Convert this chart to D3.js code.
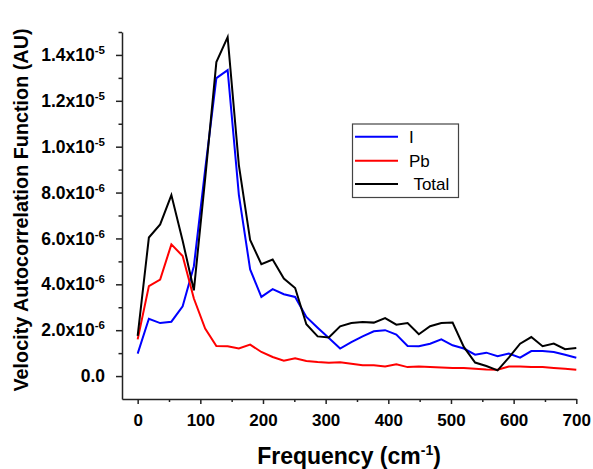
<!DOCTYPE html>
<html>
<head>
<meta charset="utf-8">
<script src="https://cdn.jsdelivr.net/npm/d3@7/dist/d3.min.js"></script>
<style>
  body { margin: 0; background: #fff; }
  text { font-family: Arial, "Liberation Sans", sans-serif; }
</style>
</head>
<body>
<svg id="chart" width="593" height="469"></svg>
<script>
// frequency (cm-1) of each sample
var freq = [0, 17.9, 35.9, 53.8, 71.8, 89.7, 107.7, 125.6, 143.6, 161.5,
  179.5, 197.4, 215.4, 233.3, 251.3, 269.2, 287.2, 305.1, 323.1, 341.0,
  359.0, 376.9, 394.9, 412.8, 430.8, 448.7, 466.7, 484.6, 502.6, 520.5,
  538.5, 556.4, 574.4, 592.3, 610.3, 628.2, 646.2, 664.1, 682.1, 700.0];

// values in units of 1e-6 AU
var iVals = [0.98, 2.5, 2.31, 2.37, 3.04, 4.79, 9.0, 12.99, 13.34, 7.9,
  4.65, 3.45, 3.79, 3.57, 3.45, 2.58, 2.11, 1.66, 1.2, 1.48,
  1.73, 1.95, 2.0, 1.81, 1.31, 1.3, 1.41, 1.6, 1.34, 1.2,
  0.93, 1.02, 0.87, 0.98, 0.8, 1.09, 1.09, 1.05, 0.93, 0.8];
var pbVals = [1.6, 3.92, 4.21, 5.74, 5.23, 3.38, 2.07, 1.31, 1.3, 1.2,
  1.37, 1.05, 0.83, 0.67, 0.78, 0.66, 0.61, 0.58, 0.6, 0.54,
  0.47, 0.47, 0.42, 0.51, 0.39, 0.42, 0.39, 0.37, 0.35, 0.35,
  0.32, 0.29, 0.28, 0.42, 0.42, 0.39, 0.39, 0.35, 0.32, 0.28];
var totalVals = [1.75, 6.04, 6.61, 7.89, 5.9, 3.74, 8.6, 13.69, 14.78, 9.2,
  5.93, 4.88, 5.08, 4.25, 3.84, 2.26, 1.73, 1.68, 2.17, 2.31,
  2.36, 2.33, 2.53, 2.24, 2.31, 1.82, 2.17, 2.31, 2.33, 1.27,
  0.59, 0.44, 0.25, 0.8, 1.41, 1.7, 1.3, 1.42, 1.17, 1.22];

var xTicks = [0, 100, 200, 300, 400, 500, 600, 700];
var xMinor = [50, 150, 250, 350, 450, 550, 650];
var yTicks = [0, 2, 4, 6, 8, 10, 12, 14];
var yMinor = [1, 3, 5, 7, 9, 11, 13, 15];

var seriesNames = ["I", "Pb", " Total"];
var seriesColors = ["#0000ff", "#ff0000", "#000000"];
var seriesVals = [iVals, pbVals, totalVals];

var svg = d3.select("#chart");
svg.append("rect").attr("width", 593).attr("height", 469).attr("fill", "#fff");

var x = d3.scaleLinear().domain([-25, 700]).range([122, 576.3]);
var y = d3.scaleLinear().domain([-1, 15]).range([399, 32]);

// minor ticks
svg.append("g")
  .attr("transform", "translate(0,399)")
  .call(d3.axisBottom(x).tickValues(xMinor).tickSize(3).tickFormat(""))
  .call(g => g.select(".domain").remove());
svg.append("g")
  .attr("transform", "translate(122,0)")
  .call(d3.axisLeft(y).tickValues(yMinor).tickSize(3.5).tickFormat(""))
  .call(g => g.select(".domain").remove());

// major axes
var xAxis = svg.append("g")
  .attr("transform", "translate(0,399)")
  .call(d3.axisBottom(x).tickValues(xTicks).tickSizeInner(5).tickSizeOuter(0).tickPadding(10));
xAxis.selectAll("text")
  .attr("font-size", 17).attr("font-weight", "bold").attr("fill", "#000")
  .attr("font-family", "Arial, 'Liberation Sans', sans-serif");

var yAxis = svg.append("g")
  .attr("transform", "translate(122,0)")
  .call(d3.axisLeft(y).tickValues(yTicks).tickSizeInner(6).tickSizeOuter(0).tickPadding(11));
yAxis.selectAll("text").each(function(d) {
  var t = d3.select(this).text(null)
    .attr("font-size", 17.5).attr("font-weight", "bold").attr("fill", "#000")
    .attr("font-family", "Arial, 'Liberation Sans', sans-serif");
  if (d === 0) { t.text("0.0"); return; }
  var mant = d < 10 ? d.toFixed(1) : (d / 10).toFixed(1);
  var exp = d < 10 ? "-6" : "-5";
  t.append("tspan").text(mant + "x10");
  t.append("tspan").attr("dy", -7).attr("font-size", 11.5).text(exp);
});

svg.selectAll(".domain, .tick line").attr("stroke", "#222").attr("stroke-width", 1.5);

// lines
var line = d3.line().x((d, i) => x(freq[i])).y(d => y(d));
seriesVals.forEach((vals, k) => {
  svg.append("path")
    .datum(vals)
    .attr("fill", "none")
    .attr("stroke", seriesColors[k])
    .attr("stroke-width", 2)
    .attr("d", line);
});

// legend
var legend = svg.append("g");
legend.append("rect")
  .attr("x", 352.5).attr("y", 124).attr("width", 106).attr("height", 73.5)
  .attr("fill", "#fff").attr("stroke", "#444").attr("stroke-width", 1.2);
var rowY = [136.7, 160.7, 184];
seriesNames.forEach((name, k) => {
  legend.append("line")
    .attr("x1", 355).attr("x2", 398).attr("y1", rowY[k]).attr("y2", rowY[k])
    .attr("stroke", seriesColors[k]).attr("stroke-width", 2);
  legend.append("text")
    .attr("x", 409).attr("y", rowY[k] + 6)
    .attr("font-size", 17)
    .attr("xml:space", "preserve")
    .style("white-space", "pre")
    .text(name);
});

// axis titles
svg.append("text")
  .attr("transform", "translate(28,210) rotate(-90)")
  .attr("text-anchor", "middle")
  .attr("font-size", 19.8).attr("font-weight", "bold")
  .text("Velocity Autocorrelation Function (AU)");

var xt = svg.append("text")
  .attr("x", 349).attr("y", 464)
  .attr("text-anchor", "middle")
  .attr("font-size", 23).attr("font-weight", "bold");
xt.append("tspan").text("Frequency (cm");
xt.append("tspan").attr("dy", -9).attr("font-size", 14).text("-1");
xt.append("tspan").attr("dy", 9).text(")");
</script>
</body>
</html>
